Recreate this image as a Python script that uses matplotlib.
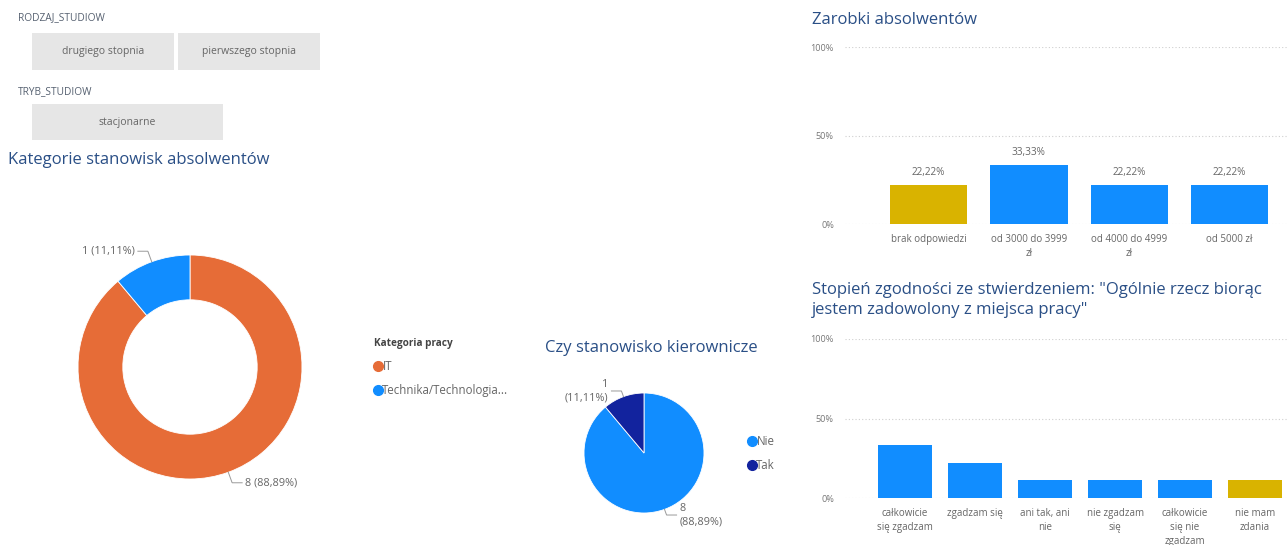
import numpy as np
import matplotlib
matplotlib.use("Agg")
import matplotlib.pyplot as plt
from matplotlib.patches import Rectangle
from matplotlib.lines import Line2D

plt.rcParams["font.family"] = ["Open Sans", "DejaVu Sans"]

# slicers
rodzaj_options = ["drugiego stopnia", "pierwszego stopnia"]
tryb_options = ["stacjonarne"]

# job category donut
kat_labels = ["IT", "Technika/Technologia..."]
kat_counts = [8, 1]

# managerial position pie
kier_labels = ["Nie", "Tak"]
kier_counts = [8, 1]

# earnings bar chart (% of graduates)
zarobki_cats = ["brak odpowiedzi", "od 3000 do 3999\nzł", "od 4000 do 4999\nzł", "od 5000 zł"]
zarobki_pct = [22.22, 33.33, 22.22, 22.22]

# job satisfaction bar chart (% of graduates)
zgoda_cats = ["całkowicie\nsię zgadzam", "zgadzam się", "ani tak, ani\nnie",
              "nie zgadzam\nsię", "całkowicie\nsię nie\nzgadzam", "nie mam\nzdania"]
zgoda_pct = [33.33, 22.22, 11.11, 11.11, 11.11, 11.11]

ORANGE = "#E66C37"
BLUE = "#118DFF"
NAVY = "#12239E"
GOLD = "#D9B300"
TITLE = "#2A4F86"
GREY = "#666666"
GRID = "#cfcfcf"

W, H = 1288, 545


def box(x0, y0, x1, y1):
    return [x0 / W, 1 - y1 / H, (x1 - x0) / W, (y1 - y0) / H]


def pct(v):
    return f"{v:.2f}%".replace(".", ",")


fig = plt.figure(figsize=(W / 100, H / 100), dpi=100)
fig.patch.set_facecolor("white")

ov = fig.add_axes([0, 0, 1, 1])
ov.axis("off")

# slicers
ov.text(18, H - 18, "RODZAJ_STUDIOW", fontsize=7.3, color="#556070", va="center")
for i, opt in enumerate(rodzaj_options):
    x0 = 32 + i * 146
    ov.add_patch(Rectangle((x0, H - 70), 142, 37, facecolor="#e6e6e6", edgecolor="none"))
    ov.text(x0 + 71, H - 51.5, opt, fontsize=7.5, color="#666666", ha="center", va="center")
ov.text(18, H - 92, "TRYB_STUDIOW", fontsize=7.3, color="#556070", va="center")
for i, opt in enumerate(tryb_options):
    ov.add_patch(Rectangle((32, H - 140), 191, 36, facecolor="#e6e6e6", edgecolor="none"))
    ov.text(127.5, H - 122, opt, fontsize=7.5, color="#666666", ha="center", va="center")

# titles
ov.text(8, H - 160, "Kategorie stanowisk absolwentów", fontsize=12, color=TITLE, va="center")
ov.text(545, H - 348, "Czy stanowisko kierownicze", fontsize=12, color=TITLE, va="center")
ov.text(812, H - 20, "Zarobki absolwentów", fontsize=12, color=TITLE, va="center")
ov.text(812, H - 300, 'Stopień zgodności ze stwierdzeniem: "Ogólnie rzecz biorąc\njestem zadowolony z miejsca pracy"',
        fontsize=12, color=TITLE, va="center", linespacing=1.4)


def labelled_pie(ax, counts, colors, center, radius, width=None):
    wp = dict(edgecolor="white", linewidth=0.6)
    if width is not None:
        wp["width"] = width
    wedges, _ = ax.pie(counts, colors=colors, startangle=90, counterclock=False,
                       radius=radius, center=center, wedgeprops=wp)
    total = sum(counts)
    for w, c in zip(wedges, counts):
        ang = np.deg2rad((w.theta1 + w.theta2) / 2)
        dx, dy = np.cos(ang), np.sin(ang)
        p0 = (center[0] + radius * dx, center[1] + radius * dy)
        p1 = (center[0] + radius * 1.1 * dx, center[1] + radius * 1.1 * dy)
        side = 1 if dx >= 0 else -1
        p2 = (p1[0] + side * 10, p1[1])
        ax.plot([p0[0], p1[0], p2[0]], [p0[1], p1[1], p2[1]], color="#999999", lw=0.7)
        yield p2, side, c, c / total * 100


# donut
cx, cy, r = 190, H - 367, 112
for p2, side, c, share in labelled_pie(ov, kat_counts, [ORANGE, BLUE], (cx, cy), r, width=r * 0.4):
    ov.text(p2[0] + side * 3, p2[1], f"{c} ({pct(share)})", fontsize=7.8, color=GREY,
            ha="left" if side > 0 else "right", va="center")

# pie
px, py, pr = 644, H - 453, 60
for p2, side, c, share in labelled_pie(ov, kier_counts, [BLUE, NAVY], (px, py), pr):
    ov.text(p2[0] + side * 3, p2[1], f"{c}\n({pct(share)})", fontsize=7.8, color=GREY,
            ha="left" if side > 0 else "right", va="center", linespacing=1.3)

ov.set_xlim(0, W)
ov.set_ylim(0, H)

# legends
kat_handles = [Line2D([], [], marker="o", ls="none", color=col, markersize=7) for col in [ORANGE, BLUE]]
leg1 = fig.legend(kat_handles, kat_labels, title="Kategoria pracy", loc="upper left",
                  bbox_to_anchor=(364 / W, 1 - 328 / H), frameon=False, fontsize=8.3,
                  title_fontsize=7.2, handlelength=0.6, handletextpad=0.1, labelspacing=0.95,
                  labelcolor=GREY)
leg1.get_title().set_fontweight("bold")
leg1.get_title().set_color("#444444")
leg1._legend_box.align = "left"

kier_handles = [Line2D([], [], marker="o", ls="none", color=col, markersize=7) for col in [BLUE, NAVY]]
fig.legend(kier_handles, kier_labels, loc="upper left", bbox_to_anchor=(738 / W, 1 - 425 / H),
           frameon=False, fontsize=8.3, handlelength=0.6, handletextpad=0.1, labelspacing=0.95,
           labelcolor=GREY)


def bar_panel(rect, cats, values, colors, xlim, show_values):
    ax = fig.add_axes(rect)
    x = np.arange(len(cats))
    bars = ax.bar(x, values, width=0.77, color=colors, zorder=2)
    if show_values:
        ax.bar_label(bars, labels=[pct(v) for v in values], padding=5, fontsize=7.2, color=GREY)
    ax.set_ylim(0, 100)
    ax.set_xlim(*xlim)
    ax.set_yticks([0, 50, 100])
    ax.set_yticklabels(["0%", "50%", "100%"])
    ax.set_xticks(x)
    ax.set_xticklabels(cats, linespacing=1.4)
    ax.tick_params(axis="y", length=0, pad=8, labelsize=6.6, labelcolor="#777777")
    ax.tick_params(axis="x", length=0, pad=7, labelsize=7, labelcolor=GREY)
    ax.yaxis.grid(True, color=GRID, linestyle=(0, (1, 2)), linewidth=0.8, zorder=0)
    for s in ax.spines.values():
        s.set_visible(False)
    ax.set_facecolor("none")
    return ax


bar_panel(box(845, 47, 1288, 224), zarobki_cats, zarobki_pct,
          [GOLD, BLUE, BLUE, BLUE], (-0.83, 3.58), True)
bar_panel(box(845, 339, 1288, 498), zgoda_cats, zgoda_pct,
          [BLUE] * 5 + [GOLD], (-0.86, 5.47), False)

fig.savefig("out.png", dpi=100)
